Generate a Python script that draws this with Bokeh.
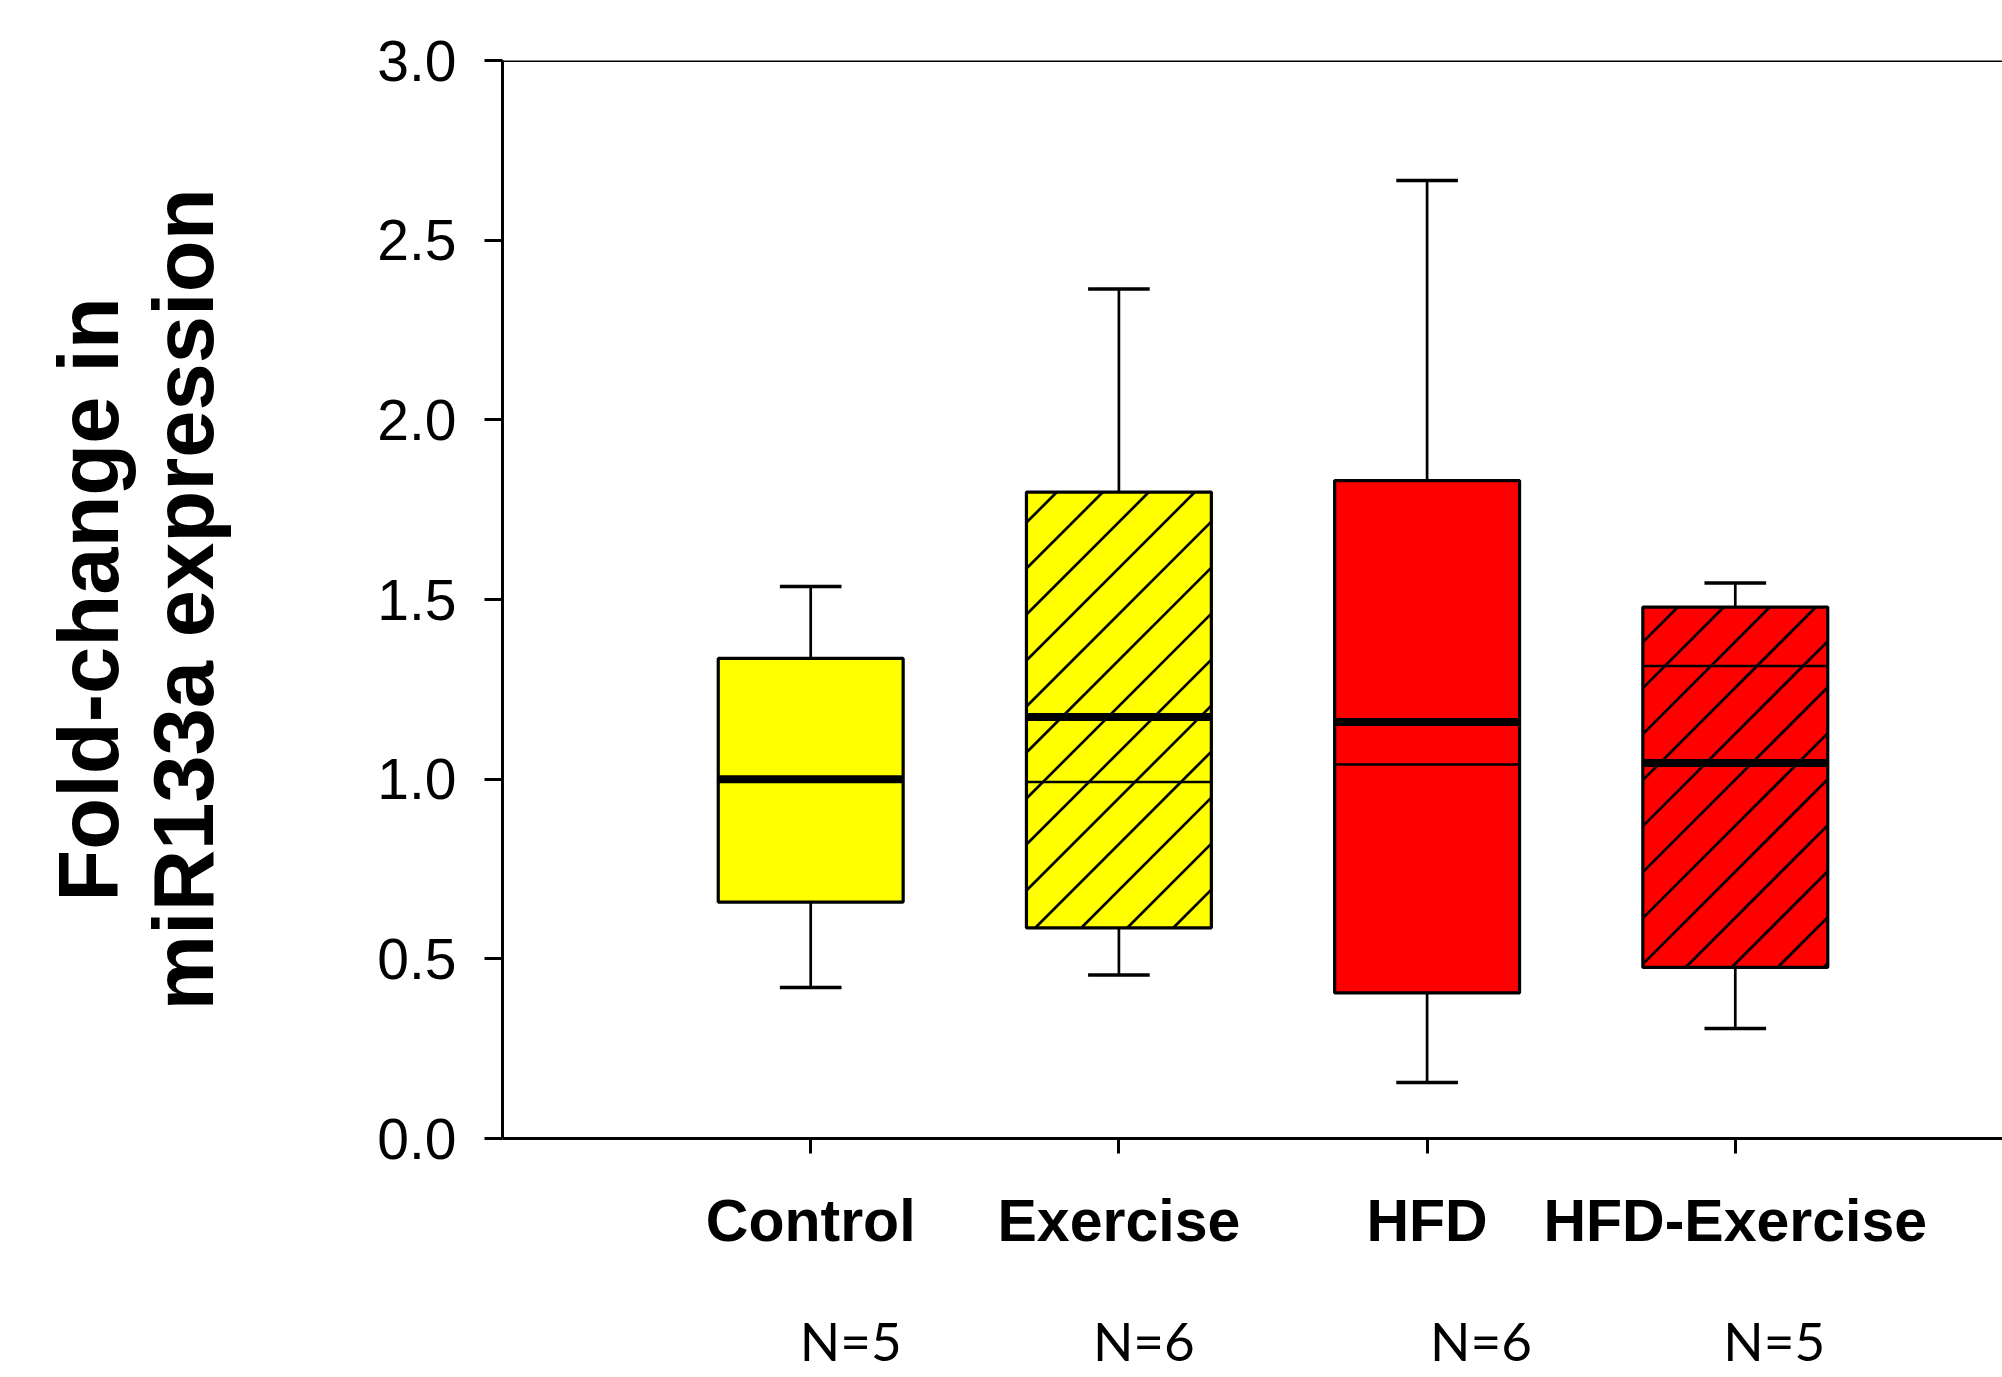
import numpy as np
from bokeh.plotting import figure
from bokeh.models import FixedTicker, Span, Range1d, ColumnDataSource, LinearAxis
from bokeh.embed import file_html
from bokeh.resources import INLINE

# ---- data ----
categories = ["Control", "Exercise", "HFD", "HFD-Exercise"]
n_labels = ["N=5", "N=6", "N=6", "N=5"]
whisker_low = [0.420, 0.455, 0.156, 0.306]
q1 = [0.658, 0.586, 0.405, 0.476]
median = [1.000, 1.173, 1.159, 1.045]
mean = [1.000, 0.992, 1.041, 1.315]
q3 = [1.336, 1.799, 1.831, 1.479]
whisker_high = [1.536, 2.364, 2.666, 1.546]
fill_colors = ["#FFFF00", "#FFFF00", "#FF0000", "#FF0000"]
hatched = [False, True, False, True]
y_ticks = [0.0, 0.5, 1.0, 1.5, 2.0, 2.5, 3.0]

# ---- styling / layout ----
W, H = 2002, 1377
border_left, border_top, border_bottom = 502, 60, 239
x_end = 4.867
box_width = 0.6
cap_width = 0.2
hatch_spacing_px = 46
n_label_offsets = [40, 25, 54, 39]   # px shift of the N labels right of each category

xs = [i + 1 for i in range(len(categories))]
src = ColumnDataSource(dict(
    x=xs, q1=q1, q3=q3, med=median, mean=mean, lo=whisker_low, hi=whisker_high,
    fill=fill_colors,
    xl=[x - box_width / 2 for x in xs], xr=[x + box_width / 2 for x in xs],
    cl=[x - cap_width / 2 for x in xs], cr=[x + cap_width / 2 for x in xs],
))

p = figure(width=W, height=H, x_range=Range1d(0, x_end), y_range=Range1d(0, 3.0),
           output_backend="svg", toolbar_location=None,
           min_border_left=border_left, min_border_right=0,
           min_border_top=border_top, min_border_bottom=border_bottom)
p.xgrid.visible = False
p.ygrid.visible = False
p.outline_line_color = None
p.background_fill_color = "white"
p.border_fill_color = "white"

# whiskers
p.segment(x0="x", y0="q3", x1="x", y1="hi", source=src, line_color="black", line_width=2.7)
p.segment(x0="x", y0="q1", x1="x", y1="lo", source=src, line_color="black", line_width=2.7)
p.segment(x0="cl", y0="hi", x1="cr", y1="hi", source=src, line_color="black", line_width=3.5)
p.segment(x0="cl", y0="lo", x1="cr", y1="lo", source=src, line_color="black", line_width=3.5)

# boxes
p.vbar(x="x", width=box_width, bottom="q1", top="q3", source=src,
       fill_color="fill", line_color=None)

# 45-degree hatch lines inside the hatched boxes (clipped to each box)
sx = (W - border_left) / x_end          # px per x unit
sy = (H - border_top - border_bottom) / 3.0  # px per y unit
hx0, hy0, hx1, hy1 = [], [], [], []
for x, b, t, h in zip(xs, q1, q3, hatched):
    if not h:
        continue
    Xl, Xr = (x - box_width / 2) * sx, (x + box_width / 2) * sx
    Yb, Yt = b * sy, t * sy
    c_lo, c_hi = Yb - Xr, Yt - Xl
    k0 = int(np.ceil(c_lo / hatch_spacing_px))
    k1 = int(np.floor(c_hi / hatch_spacing_px))
    for k in range(k0, k1 + 1):
        c = k * hatch_spacing_px
        Xa = max(Xl, Yb - c)
        Xb = min(Xr, Yt - c)
        if Xb - Xa < 1:
            continue
        hx0.append(Xa / sx); hy0.append((Xa + c) / sy)
        hx1.append(Xb / sx); hy1.append((Xb + c) / sy)
p.segment(x0=hx0, y0=hy0, x1=hx1, y1=hy1, line_color="black", line_width=2.7)

# box outlines
p.vbar(x="x", width=box_width, bottom="q1", top="q3", source=src,
       fill_color=None, line_color="black", line_width=3.2)

# mean (thin) and median (thick)
p.segment(x0="xl", y0="mean", x1="xr", y1="mean", source=src, line_color="black", line_width=2.5)
p.segment(x0="xl", y0="med", x1="xr", y1="med", source=src, line_color="black", line_width=8)

# top border line
p.add_layout(Span(location=3.0, dimension="width", line_color="black", line_width=3))

# axes
for ax in (p.xaxis, p.yaxis):
    ax.axis_line_width = 3
    ax.axis_line_color = "black"
    ax.major_tick_line_width = 3
    ax.major_tick_line_color = "black"
    ax.major_tick_in = 0
    ax.minor_tick_line_color = None

p.yaxis.ticker = FixedTicker(ticks=y_ticks)
p.yaxis.major_label_overrides = {t: f"{t:.1f}" for t in y_ticks}
p.yaxis.major_tick_out = 18
p.yaxis.major_label_standoff = 28
p.yaxis.major_label_text_font = "Liberation Sans"
p.yaxis.major_label_text_font_size = "57px"
p.yaxis.major_label_text_color = "black"
p.yaxis.axis_label = "Fold-change in\nmiR133a expression"
p.yaxis.axis_label_text_font = "Liberation Sans"
p.yaxis.axis_label_text_font_style = "bold"
p.yaxis.axis_label_text_font_size = "85px"
p.yaxis.axis_label_text_color = "black"
p.yaxis.axis_label_text_line_height = 1.0
p.yaxis.axis_label_standoff = 143

p.xaxis.ticker = FixedTicker(ticks=xs)
p.xaxis.major_label_overrides = {x: c for x, c in zip(xs, categories)}
p.xaxis.major_tick_out = 15
p.xaxis.major_label_standoff = 34
p.xaxis.major_label_text_font = "Liberation Sans"
p.xaxis.major_label_text_font_style = "bold"
p.xaxis.major_label_text_font_size = "59px"
p.xaxis.major_label_text_color = "black"

# N labels: a second, line-less axis below the category names
n_pos = [round(x + off / sx, 4) for x, off in zip(xs, n_label_offsets)]
n_axis = LinearAxis(ticker=FixedTicker(ticks=n_pos),
                    major_label_overrides={pos: t for pos, t in zip(n_pos, n_labels)},
                    axis_line_color=None, major_tick_line_color=None,
                    minor_tick_line_color=None, major_tick_out=0, major_tick_in=0,
                    major_label_standoff=52,
                    major_label_text_font="Lato", major_label_text_font_size="53px",
                    major_label_text_color="black")
p.add_layout(n_axis, "below")

open("out.html", "w").write(file_html(p, INLINE))
